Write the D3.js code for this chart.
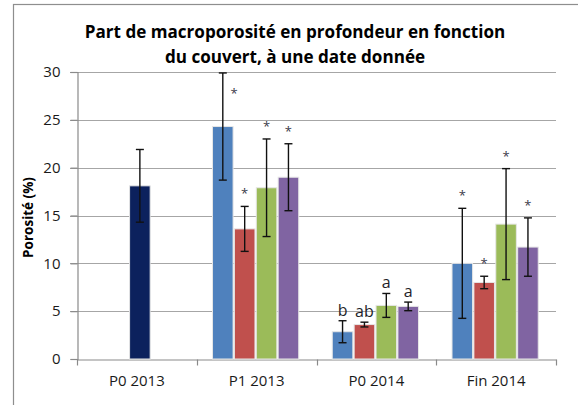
<!DOCTYPE html>
<html>
<head>
<meta charset="utf-8">
<script src="https://cdnjs.cloudflare.com/ajax/libs/d3/7.8.5/d3.min.js"></script>
<style>
  html, body { margin: 0; padding: 0; background: #fff; }
  text { font-family: "Open Sans", "Noto Sans", sans-serif; }
</style>
</head>
<body>
<script>
// chart data
const categories = ["P0 2013", "P1 2013", "P0 2014", "Fin 2014"];
const yTicks = [0, 5, 10, 15, 20, 25, 30];

// P0 2013 has a single reference bar
const refValue = [18.1];
const refError = [3.8];

// the four covers, for the three later dates
const p1_2013 = [24.3, 13.6, 17.9, 19.0];
const p1_2013Err = [5.6, 2.35, 5.1, 3.5];
const p0_2014 = [2.85, 3.6, 5.6, 5.5];
const p0_2014Err = [1.15, 0.25, 1.25, 0.45];
const fin_2014 = [10.0, 8.0, 14.1, 11.7];
const fin_2014Err = [5.75, 0.65, 5.8, 3.05];

const p1_2013Labels = ["*", "*", "*", "*"];
const p0_2014Labels = ["b", "ab", "a", "a"];
const fin_2014Labels = ["*", "*", "*", "*"];

const colors = ["#4f81bd", "#c0504d", "#9bbb59", "#8064a2"];
const refColor = "#0c215d";

const width = 578, height = 405;
const margin = { left: 77, right: 22, top: 72, bottom: 46 };

const svg = d3.select("body").append("svg")
  .attr("width", width)
  .attr("height", height);

svg.append("rect")
  .attr("width", width).attr("height", height)
  .attr("fill", "#fff");

// outer chart frame (right and bottom edges fall outside the picture)
svg.append("rect")
  .attr("x", 13.5).attr("y", 4.5)
  .attr("width", 640).attr("height", 480)
  .attr("fill", "none")
  .attr("stroke", "#8e8e8e")
  .attr("stroke-width", 1.2);

const x0 = d3.scaleBand()
  .domain(categories)
  .range([margin.left, width - margin.right]);

const bw = x0.bandwidth();
const x1 = d3.scaleBand()
  .domain(d3.range(4))
  .range([bw * 0.14 - 1, bw * 0.86 - 1])
  .paddingInner(0.06);

const y = d3.scaleLinear()
  .domain([0, 30])
  .range([height - margin.bottom, margin.top]);

// gridlines
svg.append("g")
  .selectAll("line")
  .data(yTicks.filter(d => d > 0))
  .join("line")
  .attr("x1", margin.left - 7)
  .attr("x2", width - margin.right)
  .attr("y1", d => Math.round(y(d)) + 0.5)
  .attr("y2", d => Math.round(y(d)) + 0.5)
  .attr("stroke", "#a6a6a6")
  .attr("stroke-width", 1.2);

// y axis
const yAxis = svg.append("g")
  .attr("transform", `translate(${margin.left + 0.5},0)`)
  .call(d3.axisLeft(y).tickValues(yTicks).tickSize(7).tickPadding(10));
yAxis.select(".domain").attr("stroke", "#8a8a8a").attr("stroke-width", 1.2);
yAxis.selectAll(".tick line").attr("stroke", "#8a8a8a").attr("stroke-width", 1.2);
yAxis.selectAll("text")
  .attr("font-size", 15)
  .attr("fill", "#1a1a1a")
  .style("font-family", "'Open Sans', sans-serif");

// x axis
const xAxis = svg.append("g")
  .attr("transform", `translate(0,${Math.round(y(0)) + 0.5})`)
  .call(d3.axisBottom(x0).tickSize(0).tickPadding(16));
xAxis.select(".domain").attr("stroke", "#8a8a8a").attr("stroke-width", 1.2);
xAxis.selectAll("text")
  .attr("font-size", 15)
  .attr("fill", "#1a1a1a")
  .style("font-family", "'Open Sans', sans-serif");

// boundary ticks between categories
xAxis.append("g")
  .selectAll("line")
  .data(categories.map(c => x0(c)).concat([x0.range()[1]]))
  .join("line")
  .attr("x1", d => Math.round(d) + 0.5)
  .attr("x2", d => Math.round(d) + 0.5)
  .attr("y1", 0).attr("y2", 6)
  .attr("stroke", "#8a8a8a")
  .attr("stroke-width", 1.2);

// flatten into bar records
const groups = [
  { cat: "P1 2013", values: p1_2013, errors: p1_2013Err, labels: p1_2013Labels },
  { cat: "P0 2014", values: p0_2014, errors: p0_2014Err, labels: p0_2014Labels },
  { cat: "Fin 2014", values: fin_2014, errors: fin_2014Err, labels: fin_2014Labels }
];

const bars = [];
refValue.forEach((v, i) => {
  bars.push({
    x: x0("P0 2013") + (bw - x1.bandwidth()) / 2 + 3,
    value: v, err: refError[i], color: refColor, label: ""
  });
});
groups.forEach(g => {
  g.values.forEach((v, i) => {
    bars.push({
      x: x0(g.cat) + x1(i),
      value: v, err: g.errors[i], color: colors[i], label: g.labels[i]
    });
  });
});

const barW = x1.bandwidth();

svg.append("g")
  .selectAll("rect")
  .data(bars)
  .join("rect")
  .attr("x", d => d.x)
  .attr("y", d => y(d.value))
  .attr("width", barW)
  .attr("height", d => y(0) - y(d.value))
  .attr("fill", d => d.color)
  .attr("stroke", "#e6e6e6")
  .attr("stroke-width", 1);

// error bars
const eb = svg.append("g")
  .selectAll("g")
  .data(bars)
  .join("g")
  .attr("stroke", "#111")
  .attr("stroke-width", 1.4);

eb.append("line")
  .attr("x1", d => d.x + barW / 2)
  .attr("x2", d => d.x + barW / 2)
  .attr("y1", d => y(d.value + d.err))
  .attr("y2", d => y(d.value - d.err));
eb.append("line")
  .attr("x1", d => d.x + barW / 2 - 4)
  .attr("x2", d => d.x + barW / 2 + 4)
  .attr("y1", d => y(d.value + d.err))
  .attr("y2", d => y(d.value + d.err));
eb.append("line")
  .attr("x1", d => d.x + barW / 2 - 4)
  .attr("x2", d => d.x + barW / 2 + 4)
  .attr("y1", d => y(d.value - d.err))
  .attr("y2", d => y(d.value - d.err));

// significance labels
svg.append("g")
  .selectAll("text")
  .data(bars.filter(d => d.label !== ""))
  .join("text")
  .each(function (d) {
    const t = d3.select(this);
    const top = y(d.value + d.err);
    const cx = d.x + barW / 2;
    if (d.label === "*") {
      if (top - 15 < margin.top) {
        // no room above the error bar: put it beside
        t.attr("x", d.x + barW + 1).attr("y", margin.top + 26);
      } else {
        t.attr("x", cx).attr("y", top - 15 + 7);
      }
      t.attr("font-size", 13).attr("fill", "#3b3b4a");
    } else {
      t.attr("x", cx).attr("y", top - 5)
        .attr("font-size", 16).attr("fill", "#1f1f2a");
    }
  })
  .attr("text-anchor", "middle")
  .text(d => d.label);

// title
const title = svg.append("text")
  .attr("x", 295)
  .attr("text-anchor", "middle")
  .attr("font-weight", "bold")
  .attr("fill", "#000");
title.append("tspan").attr("x", 295).attr("y", 38)
  .text("Part de macroporosité en profondeur en fonction");
title.append("tspan").attr("x", 295).attr("y", 63)
  .text("du couvert, à une date donnée");
title.attr("font-size", 20);
const tw = title.select("tspan").node().getComputedTextLength();
title.attr("font-size", 20 * 421 / tw);

// y axis label
svg.append("text")
  .attr("transform", `translate(33,${(y(0) + y(30)) / 2 + 2}) rotate(-90)`)
  .attr("text-anchor", "middle")
  .attr("font-weight", "bold")
  .attr("font-size", 13.5)
  .attr("fill", "#000")
  .text("Porosité (%)");
</script>
</body>
</html>
